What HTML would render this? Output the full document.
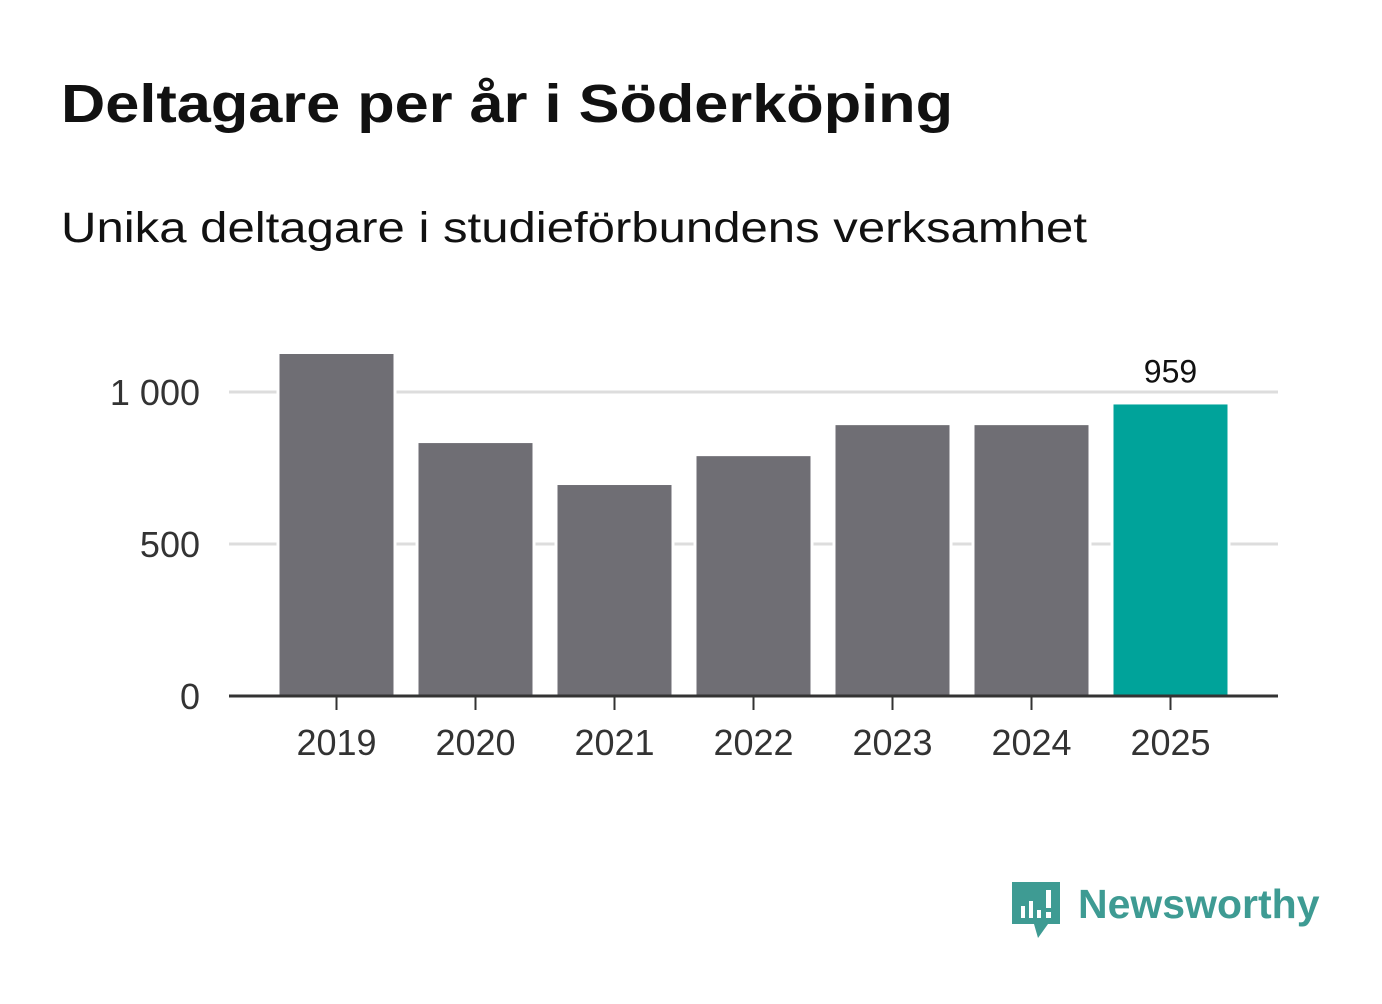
<!DOCTYPE html>
<html><head><meta charset="utf-8"><style>
body{margin:0;background:#fff;width:1382px;height:999px;overflow:hidden;font-family:"Liberation Sans",sans-serif}
</style></head><body>
<svg width="1382" height="999">
<text x="61" y="122" font-size="54" font-weight="bold" fill="#111" textLength="892" lengthAdjust="spacingAndGlyphs">Deltagare per år i Söderköping</text>
<text x="61" y="242" font-size="43" fill="#111" textLength="1026" lengthAdjust="spacingAndGlyphs">Unika deltagare i studieförbundens verksamhet</text>
<g id="grid"></g><g id="bars"></g><g id="axes"></g>
<g>
<path d="M1012 882h48v42h-12l-10 14l-4-14h-22z" fill="#3e9b93"/>
<rect x="1021" y="906" width="4" height="12" fill="#fff"/><rect x="1029" y="901" width="4" height="17" fill="#fff"/><rect x="1037" y="910" width="4" height="8" fill="#fff"/><rect x="1046" y="890" width="5" height="18" fill="#fff"/><rect x="1046" y="912" width="5" height="6" fill="#fff"/>
<text x="1078" y="918" font-size="41" font-weight="bold" fill="#3e9b93">Newsworthy</text>
</g>
</svg>
<script>
const years=["2019","2020","2021","2022","2023","2024","2025"];
const values=[1125,832,694,789,891,891,959];
const yTicks=[0,500,1000];
const yLabels=["0","500","1 000"];
const ns="http://www.w3.org/2000/svg";
const x0=229,x1=1278,y0=696,pxPer=304/1000;
const step=139,pad=(x1-x0-step*years.length)/2;
const xc=i=>x0+pad+step*(i+0.5);
const y=v=>y0-v*pxPer;
function mk(t,a,p){const e=document.createElementNS(ns,t);for(const k in a)e.setAttribute(k,a[k]);p.appendChild(e);return e;}
const g=document.getElementById('grid'),b=document.getElementById('bars'),ax=document.getElementById('axes');
yTicks.forEach((v,i)=>{
 if(v>0){const l=mk('line',{x1:x0,x2:x1,y1:y(v),y2:y(v),stroke:'#ddd','stroke-width':3},g);
 
 }
 const t=mk('text',{x:200,y:y(v)+13,'text-anchor':'end','font-size':36,fill:'#333'},ax);t.textContent=yLabels[i];
 
 
});
years.forEach((yr,i)=>{
 const last=i===years.length-1;
 const r=mk('rect',{x:xc(i)-57,y:y(values[i]),width:114,height:y0-y(values[i]),fill:last?'#00a39a':'#6f6e74',stroke:'#fff','stroke-width':6,'paint-order':'stroke'},b);
 
 
 mk('line',{x1:xc(i),x2:xc(i),y1:y0,y2:y0+14,stroke:'#333','stroke-width':2},ax);
 const t=mk('text',{x:xc(i),y:755,'text-anchor':'middle','font-size':36,fill:'#333'},ax);t.textContent=yr;
 
 
 if(last){const v=mk('text',{x:xc(i),y:y(values[i])-22,'text-anchor':'middle','font-size':32,fill:'#111'},ax);v.textContent=values[i];
 
 }
});
const base=mk('line',{x1:x0,x2:x1,y1:y0,y2:y0,stroke:'#333','stroke-width':3},ax);


</script>
</body></html>
